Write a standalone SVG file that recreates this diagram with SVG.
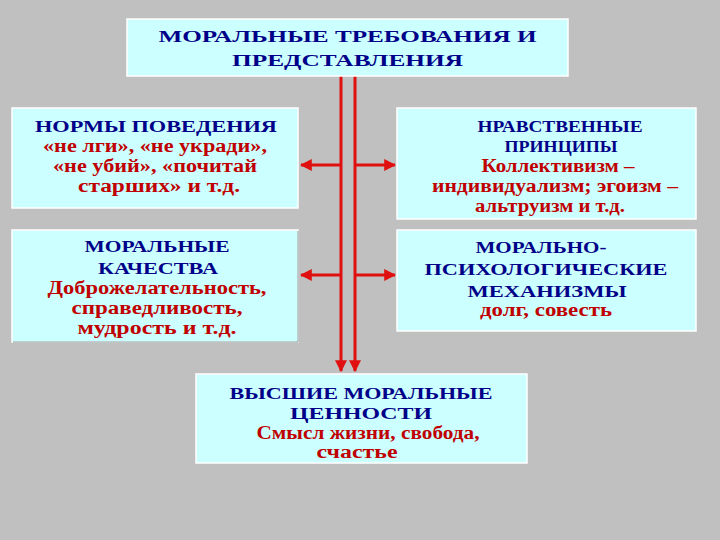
<svg xmlns="http://www.w3.org/2000/svg" width="720" height="540" viewBox="0 0 720 540">
<defs>
<style>
.box{fill:#ccffff;stroke:#ffffff;stroke-width:1.5}
.sh{fill:none;stroke:#8a9a9a;stroke-width:1}
.h{font-family:"Liberation Serif","DejaVu Serif",serif;font-weight:bold;font-size:17px;fill:#000088;text-anchor:middle}
.t{font-family:"Liberation Serif","DejaVu Serif",serif;font-weight:bold;font-size:18px;fill:#c00000;text-anchor:middle}
.ln{stroke:#e01010;stroke-width:3;fill:none}
</style>
<marker id="ah" viewBox="0 0 10 10" refX="9" refY="5" markerWidth="4" markerHeight="4" orient="auto" markerUnits="strokeWidth">
<path d="M0,0 L10,5 L0,10 Z" fill="#e01010"/>
</marker>
</defs>
<rect width="720" height="540" fill="#c0c0c0"/>
<g id="connectors">
<line class="ln" x1="341" y1="76" x2="341" y2="371" marker-end="url(#ah)"/>
<line class="ln" x1="355" y1="76" x2="355" y2="371" marker-end="url(#ah)"/>
<line class="ln" x1="340" y1="165" x2="301" y2="165" marker-end="url(#ah)"/>
<line class="ln" x1="356" y1="165" x2="395" y2="165" marker-end="url(#ah)"/>
<line class="ln" x1="340" y1="275" x2="301" y2="275" marker-end="url(#ah)"/>
<line class="ln" x1="356" y1="275" x2="395" y2="275" marker-end="url(#ah)"/>
</g>
<g id="top">
<rect class="box" x="127" y="19" width="441" height="57"/>
<text class="h" x="347.5" y="42" font-size="19" textLength="378" lengthAdjust="spacingAndGlyphs">МОРАЛЬНЫЕ ТРЕБОВАНИЯ И</text>
<text class="h" x="347.5" y="66" font-size="19" textLength="231" lengthAdjust="spacingAndGlyphs">ПРЕДСТАВЛЕНИЯ</text>
</g>
<g id="norms">
<rect class="box" x="12" y="108" width="286" height="100"/>
<text class="h" x="156" y="132" textLength="242" lengthAdjust="spacingAndGlyphs">НОРМЫ ПОВЕДЕНИЯ</text>
<text class="t" x="155" y="152" textLength="224" lengthAdjust="spacingAndGlyphs">«не лги», «не укради»,</text>
<text class="t" x="155" y="172" textLength="204" lengthAdjust="spacingAndGlyphs">«не убий», «почитай</text>
<text class="t" x="159" y="192" textLength="162" lengthAdjust="spacingAndGlyphs">старших» и т.д.</text>
</g>
<g id="principles">
<rect class="box" x="397" y="108" width="299" height="111"/>
<text class="h" x="560" y="132" textLength="165" lengthAdjust="spacingAndGlyphs">НРАВСТВЕННЫЕ</text>
<text class="h" x="561" y="152" textLength="113" lengthAdjust="spacingAndGlyphs">ПРИНЦИПЫ</text>
<text class="t" x="558" y="172" textLength="153" lengthAdjust="spacingAndGlyphs">Коллективизм –</text>
<text class="t" x="555" y="192" textLength="246" lengthAdjust="spacingAndGlyphs">индивидуализм; эгоизм –</text>
<text class="t" x="550" y="212" textLength="150" lengthAdjust="spacingAndGlyphs">альтруизм и т.д.</text>
</g>
<g id="qualities">
<rect class="box" x="12" y="230" width="286" height="112"/>
<path class="sh" d="M298,231 V342 H13"/>
<text class="h" x="157" y="252" textLength="145" lengthAdjust="spacingAndGlyphs">МОРАЛЬНЫЕ</text>
<text class="h" x="158" y="274" textLength="120" lengthAdjust="spacingAndGlyphs">КАЧЕСТВА</text>
<text class="t" x="157" y="294" textLength="219" lengthAdjust="spacingAndGlyphs">Доброжелательность,</text>
<text class="t" x="157" y="314" textLength="171" lengthAdjust="spacingAndGlyphs">справедливость,</text>
<text class="t" x="157" y="334" textLength="159" lengthAdjust="spacingAndGlyphs">мудрость и т.д.</text>
</g>
<g id="mechanisms">
<rect class="box" x="397" y="230" width="299" height="101"/>
<text class="h" x="541" y="253" textLength="131" lengthAdjust="spacingAndGlyphs">МОРАЛЬНО-</text>
<text class="h" x="546" y="275" textLength="243" lengthAdjust="spacingAndGlyphs">ПСИХОЛОГИЧЕСКИЕ</text>
<text class="h" x="547" y="297" textLength="159" lengthAdjust="spacingAndGlyphs">МЕХАНИЗМЫ</text>
<text class="t" x="546" y="316" textLength="132" lengthAdjust="spacingAndGlyphs">долг, совесть</text>
</g>
<g id="values">
<rect class="box" x="196" y="374" width="331" height="89"/>
<text class="h" x="361" y="399" textLength="263" lengthAdjust="spacingAndGlyphs">ВЫСШИЕ МОРАЛЬНЫЕ</text>
<text class="h" x="361" y="419" textLength="142" lengthAdjust="spacingAndGlyphs">ЦЕННОСТИ</text>
<text class="t" x="368" y="439" font-size="16" textLength="223" lengthAdjust="spacingAndGlyphs">Смысл жизни, свобода,</text>
<text class="t" x="357" y="458" font-size="16" textLength="81" lengthAdjust="spacingAndGlyphs">счастье</text>
</g>
</svg>
